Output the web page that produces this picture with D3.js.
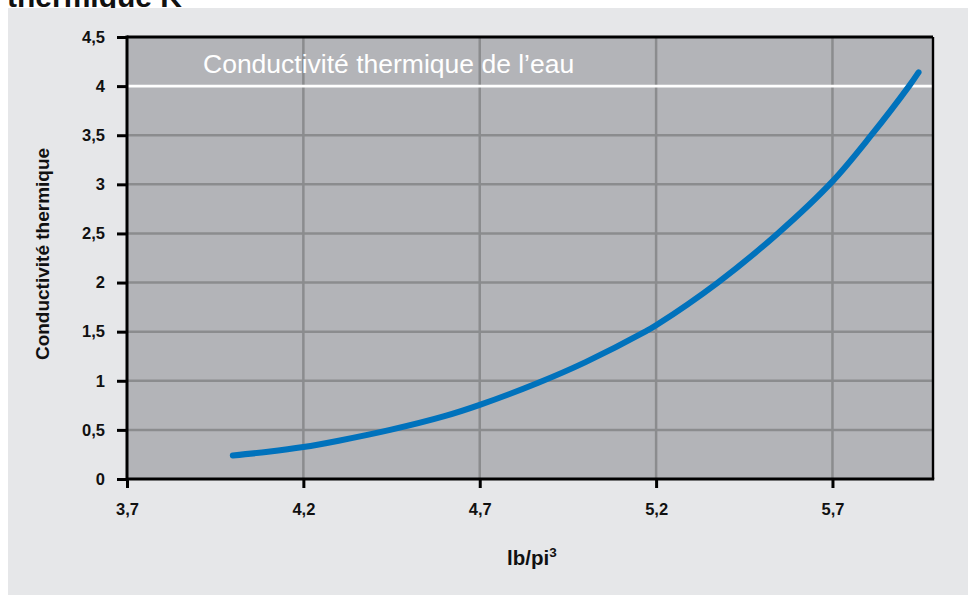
<!DOCTYPE html>
<html>
<head>
<meta charset="utf-8">
<script src="https://cdn.jsdelivr.net/npm/d3@7"></script>
<style>
  html, body { margin: 0; padding: 0; background: #ffffff; }
  svg { display: block; }
  text { font-family: "Liberation Sans", Arial, sans-serif; }
  .tick text { font-size: 16.5px; font-weight: bold; fill: #111; }
</style>
</head>
<body>
<script>
// ---- Data ----
const densityLbPi3 = [4.0, 4.1, 4.2, 4.3, 4.446, 4.6, 4.7, 4.866, 5.0, 5.169, 5.2, 5.375, 5.545, 5.7, 5.81, 5.917, 5.944];
const conductivity = [0.24, 0.277, 0.325, 0.39, 0.5, 0.64, 0.755, 0.98, 1.19, 1.5, 1.565, 2.0, 2.5, 3.03, 3.5, 4.0, 4.14];
const xTicks = [3.7, 4.2, 4.7, 5.2, 5.7];
const yTicks = [0, 0.5, 1, 1.5, 2, 2.5, 3, 3.5, 4, 4.5];
const waterConductivity = 4;
const waterLabel = "Conductivité thermique de l’eau";
const yTitle = "Conductivité thermique";
const xTitleMain = "lb/pi";
const xTitleSup = "3";
const chartTitle = "thermique K";

const W = 968, H = 595;
const svg = d3.select("body").append("svg").attr("width", W).attr("height", H);

// title (partially cut off at top, as in the reference)
svg.append("text").attr("x", 7).attr("y", 7)
  .attr("font-size", 30).attr("font-weight", "bold").attr("fill", "#111")
  .text(chartTitle);

// panel
svg.append("rect").attr("x", 8).attr("y", 8).attr("width", W - 8).attr("height", H - 8)
  .attr("fill", "#e6e7e9");

const x = d3.scaleLinear().domain([3.7, 5.985]).range([127, 933]);
const y = d3.scaleLinear().domain([0, 4.5]).range([479, 37]);

const fmt = d => String(d).replace(".", ",");

// plot background
svg.append("rect").attr("x", x(3.7)).attr("y", y(4.5))
  .attr("width", x(5.985) - x(3.7)).attr("height", y(0) - y(4.5))
  .attr("fill", "#b3b4b8");

// grid
const g = svg.append("g");
g.selectAll("line.h").data(yTicks.filter(d => d > 0 && d < 4.5 && d !== waterConductivity)).join("line")
  .attr("x1", x(3.7)).attr("x2", x(5.985)).attr("y1", d => y(d)).attr("y2", d => y(d))
  .attr("stroke", "#8b8c8e").attr("stroke-width", 2.5);
g.selectAll("line.v").data(xTicks.filter(d => d > 3.7)).join("line")
  .attr("x1", d => x(d)).attr("x2", d => x(d)).attr("y1", y(4.5)).attr("y2", y(0))
  .attr("stroke", "#8b8c8e").attr("stroke-width", 2.5);

// water line
svg.append("line").attr("x1", x(3.7)).attr("x2", x(5.985))
  .attr("y1", y(waterConductivity)).attr("y2", y(waterConductivity))
  .attr("stroke", "#ffffff").attr("stroke-width", 2.8);
svg.append("text").attr("x", 203).attr("y", y(waterConductivity) - 13)
  .attr("font-size", 26.5).attr("fill", "#ffffff").text(waterLabel);

// curve
const pts = densityLbPi3.map((d, i) => [d, conductivity[i]]);
svg.append("path").datum(pts)
  .attr("d", d3.line().x(d => x(d[0])).y(d => y(d[1])).curve(d3.curveCatmullRom.alpha(0.5)))
  .attr("fill", "none").attr("stroke", "#0072bc").attr("stroke-width", 6)
  .attr("stroke-linecap", "round");

// border top/right
svg.append("line").attr("x1", x(3.7)).attr("x2", x(5.985)).attr("y1", y(4.5)).attr("y2", y(4.5))
  .attr("stroke", "#000").attr("stroke-width", 3);
svg.append("line").attr("x1", x(5.985)).attr("x2", x(5.985)).attr("y1", y(4.5)).attr("y2", y(0))
  .attr("stroke", "#000").attr("stroke-width", 2.4);

// axes
const yAxis = d3.axisLeft(y).tickValues(yTicks).tickFormat(fmt).tickSize(10).tickPadding(12);
const ya = svg.append("g").attr("transform", `translate(${x(3.7)},0)`).call(yAxis);
const xAxis = d3.axisBottom(x).tickValues(xTicks).tickFormat(fmt).tickSize(9).tickPadding(15);
const xa = svg.append("g").attr("transform", `translate(0,${y(0)})`).call(xAxis);
[ya, xa].forEach(a => {
  a.attr("font-size", null).attr("font-family", null);
  a.select(".domain").remove();
  a.selectAll(".tick line").attr("stroke", "#000").attr("stroke-width", 3);
});
// left and bottom axis lines
svg.append("line").attr("x1", x(3.7)).attr("x2", x(3.7)).attr("y1", y(4.5) - 1.5).attr("y2", y(0) + 1.5)
  .attr("stroke", "#000").attr("stroke-width", 3);
svg.append("line").attr("x1", x(3.7)).attr("x2", x(5.985) + 1.2).attr("y1", y(0)).attr("y2", y(0))
  .attr("stroke", "#000").attr("stroke-width", 3);

// axis titles
svg.append("text").attr("transform", `translate(49,254) rotate(-90)`)
  .attr("text-anchor", "middle").attr("font-size", 19).attr("font-weight", "bold")
  .attr("fill", "#111").text(yTitle);
const xt = svg.append("text").attr("x", 507).attr("y", 565)
  .attr("font-size", 20.5).attr("font-weight", "bold").attr("fill", "#111");
xt.append("tspan").text(xTitleMain);
xt.append("tspan").attr("dy", -8).attr("font-size", 13.5).text(xTitleSup);
</script>
</body>
</html>
